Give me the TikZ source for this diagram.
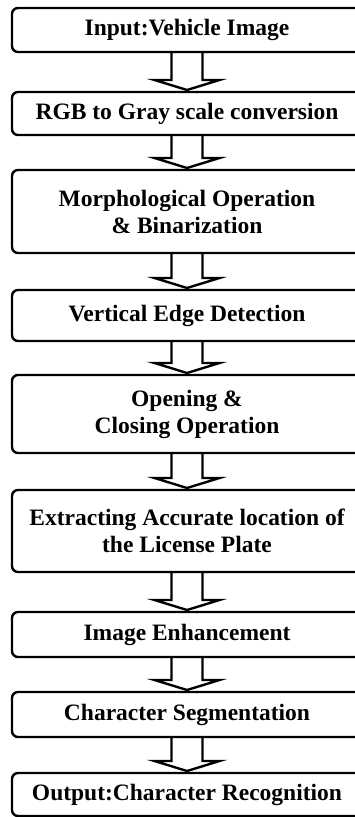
\documentclass[tikz,border=0pt]{standalone}
\usepackage{fontspec}
\setmainfont{Liberation Serif}
\usetikzlibrary{calc}
\tikzset{
  stepbox/.style={draw=black, line width=2.4pt, rounded corners=6pt,
    minimum width=350pt, align=center, inner sep=0pt, outer sep=0pt,
    font=\fontsize{23.5}{27}\selectfont\bfseries},
  flowarrow/.style={draw=black, line width=2.4pt, line join=miter}
}
\newcommand\blockarrow[2]{%
  \draw[flowarrow]
    ($(#1.south -| ax)+(-15.5,0)$) --
    ($(#2.north -| ax)+(-15.5,-12)$) --
    ($(#2.north -| ax)+(-32.5,-12)$) --
    ($(#2.north -| ax)+(0,-2)$) --
    ($(#2.north -| ax)+(32.5,-12)$) --
    ($(#2.north -| ax)+(15.5,-12)$) --
    ($(#1.south -| ax)+(15.5,0)$);}
\begin{document}
\begin{tikzpicture}[x=1pt,y=-1pt]
\useasboundingbox (0,0) rectangle (355,817);
\clip (0,0) rectangle (355,817);
\coordinate (ax) at (187,0);
\node[stepbox, minimum height=44pt] (b1) at (187,30) {Input:Vehicle Image};
\node[stepbox, minimum height=43pt] (b2) at (187,113.5) {RGB to Gray scale conversion};
\node[stepbox, minimum height=83pt] (b3) at (187,211.5) {Morphological Operation\\ \& Binarization};
\node[stepbox, minimum height=51pt] (b4) at (187,315.5) {Vertical Edge Detection};
\node[stepbox, minimum height=78pt] (b5) at (187,414) {Opening \&\\ Closing Operation};
\node[stepbox, minimum height=82pt] (b6) at (187,531) {Extracting Accurate location of\\ the License Plate};
\node[stepbox, minimum height=45pt] (b7) at (187,634.5) {Image Enhancement};
\node[stepbox, minimum height=45pt] (b8) at (187,714.5) {Character Segmentation};
\node[stepbox, minimum height=43pt] (b9) at (187,794.5) {Output:Character Recognition};
\blockarrow{b1}{b2}
\blockarrow{b2}{b3}
\blockarrow{b3}{b4}
\blockarrow{b4}{b5}
\blockarrow{b5}{b6}
\blockarrow{b6}{b7}
\blockarrow{b7}{b8}
\blockarrow{b8}{b9}
\end{tikzpicture}
\end{document}
